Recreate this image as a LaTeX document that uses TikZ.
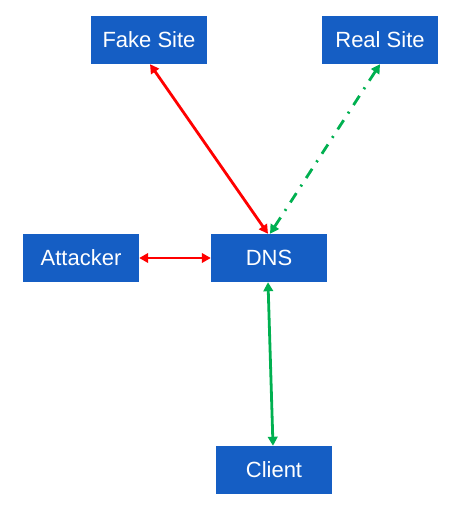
\documentclass[tikz,border=0pt]{standalone}
\usepackage{fontspec}
\setmainfont{Liberation Sans}
\usetikzlibrary{arrows.meta}
\definecolor{boxblue}{RGB}{21,94,196}
\definecolor{lnred}{RGB}{255,0,0}
\definecolor{lngreen}{RGB}{0,176,80}
\begin{document}
\begin{tikzpicture}[x=1pt,y=1pt,
  box/.style={fill=boxblue, draw=none, minimum width=116pt, minimum height=48pt, inner sep=0pt,
    text=white, font=\fontsize{22}{26}\selectfont},
  link/.style={line width=2.8pt, {Triangle[length=9pt,width=9.5pt]}-{Triangle[length=9pt,width=9.5pt]}},
  redlink/.style={link, color=lnred},
  greenlink/.style={link, color=lngreen},
  dashdot/.style={dash pattern=on 11pt off 8pt on 2pt off 8pt}
]
\useasboundingbox (0,0) rectangle (476,509);
\node[box] (fake) at (149,469) {Fake Site};
\node[box] (real) at (380,469) {Real Site};
\node[box] (att) at (81,251) {Attacker};
\node[box] (dns) at (269,251) {DNS};
\node[box] (cli) at (274,39) {Client};

\draw[redlink] ([xshift=1pt]fake.south) -- ([xshift=-1pt]dns.north);
\draw[greenlink, dashdot] ([xshift=1pt]dns.north) -- (real.south);
\draw[redlink] (att.east) -- (dns.west);
\draw[greenlink] ([xshift=-1pt]dns.south) -- ([xshift=-1pt]cli.north);
\end{tikzpicture}
\end{document}
